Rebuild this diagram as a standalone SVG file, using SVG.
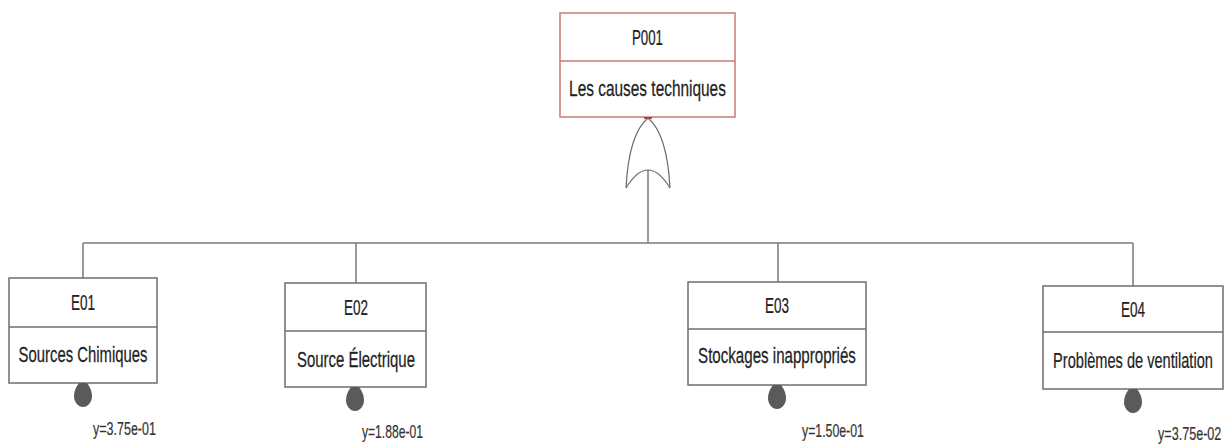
<svg xmlns="http://www.w3.org/2000/svg" width="1229" height="444" viewBox="0 0 1229 444">
  <style>
    .box { fill: #ffffff; stroke: #6e6e6e; stroke-width: 1.5; }
    .top { fill: #ffffff; stroke: #c97a76; stroke-width: 1.5; }
    .wire { fill: none; stroke: #7a7a7a; stroke-width: 1.5; }
    .gate { fill: #ffffff; stroke: #6a6a6a; stroke-width: 1.2; }
    .drop { fill: #5a5a5a; }
    .lbl { font-family: "Liberation Sans", Arial, sans-serif; font-size: 22px; fill: #1e1e1e; stroke: #1e1e1e; stroke-width: 0.25; text-anchor: middle; }
    .prob { font-family: "Liberation Sans", Arial, sans-serif; font-size: 18px; fill: #333333; stroke: #333333; stroke-width: 0.2; }
  </style>
  <rect width="1229" height="444" fill="#ffffff"/>

  <!-- connectors -->
  <g id="connectors">
    <line class="wire" x1="648" y1="170" x2="648" y2="243"/>
    <line class="wire" x1="83" y1="243" x2="1133" y2="243"/>
    <line class="wire" x1="83" y1="243" x2="83" y2="278"/>
    <line class="wire" x1="356" y1="243" x2="356" y2="283"/>
    <line class="wire" x1="778" y1="243" x2="778" y2="282"/>
    <line class="wire" x1="1133" y1="243" x2="1133" y2="286"/>
  </g>

  <!-- top event -->
  <g id="P001">
    <rect class="top" x="560" y="13" width="175" height="104"/>
    <line class="top" x1="560" y1="61" x2="735" y2="61"/>
    <text class="lbl" transform="translate(647.5,45) scale(0.603,1)">P001</text>
    <text class="lbl" transform="translate(647.5,96) scale(0.701,1)">Les causes techniques</text>
  </g>

  <!-- OR gate -->
  <g id="gate-or">
    <path class="gate" d="M648,118 C636,128 628,150 626,188 Q648,152 670,188 C668,150 660,128 648,118 Z"/>
    <line x1="644" y1="118" x2="652" y2="118" stroke="#a05050" stroke-width="2"/>
  </g>

  <!-- basic events -->
  <g id="E01">
    <rect class="box" x="9" y="278" width="148" height="105"/>
    <line class="box" x1="9" y1="327" x2="157" y2="327"/>
    <text class="lbl" transform="translate(83,310) scale(0.614,1)">E01</text>
    <text class="lbl" transform="translate(83,362) scale(0.676,1)">Sources Chimiques</text>
    <path class="drop" d="M79,383 L87,383 C90,387 92,391 92,396 C92,402 88,407 83,407 C78,407 74,402 74,396 C74,391 76,387 79,383 Z"/>
    <text class="prob" transform="translate(93,435) scale(0.695,1)">y=3.75e-01</text>
  </g>

  <g id="E02">
    <rect class="box" x="285" y="283" width="141" height="104"/>
    <line class="box" x1="285" y1="331" x2="426" y2="331"/>
    <text class="lbl" transform="translate(356,315) scale(0.614,1)">E02</text>
    <text class="lbl" transform="translate(356,367) scale(0.680,1)">Source Électrique</text>
    <path class="drop" d="M351,387 L359,387 C362,391 364,395 364,400 C364,406 360,411 355,411 C350,411 346,406 346,400 C346,395 348,391 351,387 Z"/>
    <text class="prob" transform="translate(362,438) scale(0.673,1)">y=1.88e-01</text>
  </g>

  <g id="E03">
    <rect class="box" x="688" y="282" width="178" height="103"/>
    <line class="box" x1="688" y1="329" x2="866" y2="329"/>
    <text class="lbl" transform="translate(777,313) scale(0.614,1)">E03</text>
    <text class="lbl" transform="translate(777,363) scale(0.687,1)">Stockages inappropriés</text>
    <path class="drop" d="M773,385 L781,385 C784,389 786,393 786,398 C786,404 782,409 777,409 C772,409 768,404 768,398 C768,393 770,389 773,385 Z"/>
    <text class="prob" transform="translate(802,437) scale(0.684,1)">y=1.50e-01</text>
  </g>

  <g id="E04">
    <rect class="box" x="1043" y="286" width="180" height="103"/>
    <line class="box" x1="1043" y1="332" x2="1223" y2="332"/>
    <text class="lbl" transform="translate(1133,317) scale(0.614,1)">E04</text>
    <text class="lbl" transform="translate(1133,368) scale(0.664,1)">Problèmes de ventilation</text>
    <path class="drop" d="M1129,389 L1137,389 C1140,393 1142,397 1142,402 C1142,408 1138,413 1133,413 C1128,413 1124,408 1124,402 C1124,397 1126,393 1129,389 Z"/>
    <text class="prob" transform="translate(1158,440) scale(0.700,1)">y=3.75e-02</text>
  </g>
</svg>
